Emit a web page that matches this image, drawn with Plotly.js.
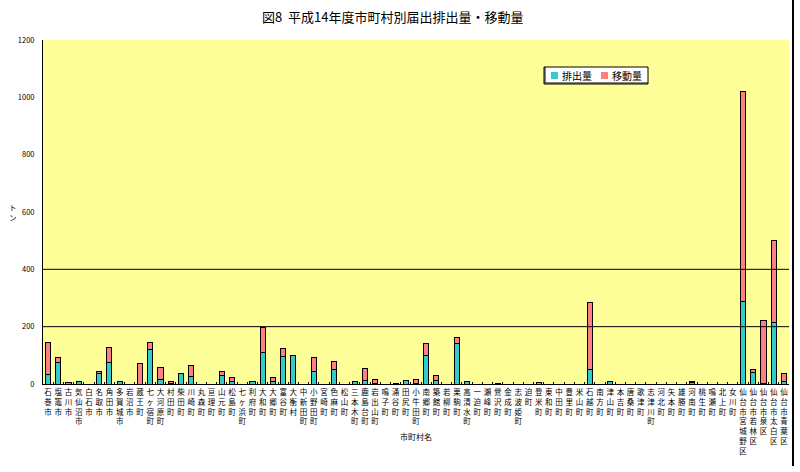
<!DOCTYPE html>
<html>
<head>
<meta charset="utf-8">
<script src="https://cdn.plot.ly/plotly-3.0.1.min.js"></script>
<style>
  html, body { margin: 0; padding: 0; background: #fff; }
  #chart { width: 800px; height: 472px; }
</style>
</head>
<body>
<div id="chart"></div>
<script>
// 市町村名 (縦書きで表示)
const towns = [
  '石巻市', '塩竈市', '古川市', '気仙沼市', '白石市', '名取市', '角田市', '多賀城市', '岩沼市', '蔵王町',
  '七ヶ宿町', '大河原町', '村田町', '柴田町', '川崎町', '丸森町', '亘理町', '山元町', '松島町', '七ヶ浜町',
  '利府町', '大和町', '大郷町', '富谷町', '大衡村', '中新田町', '小野田町', '宮崎町', '色麻町', '松山町',
  '三本木町', '鹿島台町', '岩出山町', '鳴子町', '涌谷町', '田尻町', '小牛田町', '南郷町', '築館町', '若柳町',
  '栗駒町', '高清水町', '一迫町', '瀬峰町', '鶯沢町', '金成町', '志波姫町', '迫町', '登米町', '東和町',
  '中田町', '豊里町', '米山町', '石越町', '南方町', '津山町', '本吉町', '唐桑町', '歌津町', '志津川町',
  '河北町', '矢本町', '雄勝町', '河南町', '桃生町', '鳴瀬町', '北上町', '女川町',
  '仙台市宮城野区', '仙台市若林区', '仙台市泉区', '仙台市太白区', '仙台市青葉区'
];

// 排出量 (トン)
const emissions = [
  34, 75, 6, 9, 0, 38, 76, 10, 0, 0,
  120, 15, 2, 35, 27, 0, 0, 30, 8, 0,
  7, 110, 7, 95, 98, 0, 44, 0, 50, 0,
  10, 13, 1, 0, 3, 13, 2, 99, 13, 0,
  141, 10, 0, 0, 3, 0, 0, 0, 0, 0,
  0, 0, 0, 52, 0, 7, 0, 0, 0, 0,
  0, 0, 0, 6, 0, 0, 0, 0,
  287, 41, 2, 215, 9
];

// 移動量 (トン)
const transfers = [
  111, 17, 0, 0, 0, 4, 50, 0, 0, 73,
  25, 43, 5, 0, 39, 0, 0, 15, 16, 0,
  0, 88, 17, 29, 0, 0, 49, 0, 30, 0,
  0, 42, 13, 0, 0, 0, 15, 41, 17, 0,
  22, 0, 0, 0, 0, 0, 0, 0, 4, 0,
  0, 0, 0, 232, 0, 0, 0, 0, 0, 0,
  0, 0, 0, 1, 0, 0, 0, 0,
  735, 8, 221, 287, 26
];

const seriesNames = ['排出量', '移動量'];
const seriesColors = ['#33CCCC', '#FF8080'];
const refLines = [200, 400];

const font = 'Noto Sans CJK JP, sans-serif';
const labels = towns.map(t => t.split('').join('<br>'));

const traces = [emissions, transfers].map((vals, i) => ({
  x: labels,
  y: vals,
  name: seriesNames[i],
  type: 'bar',
  marker: { color: seriesColors[i], line: { color: '#000', width: 1 } }
}));

// plot area in pixels: x 43..789, y 40..384
const px = x => (x - 43) / 746;
const py = y => (384 - y) / 344;

const shapes = refLines.map(v => ({
  type: 'line', xref: 'paper', yref: 'y',
  x0: 0, x1: 1, y0: v, y1: v,
  line: { color: '#000', width: 1 }
}));

// right border of the chart area
shapes.push({
  type: 'line', xref: 'paper', yref: 'paper',
  x0: px(793), x1: px(793), y0: py(0), y1: py(466),
  line: { color: '#000', width: 2 }
});

// hand-drawn legend box
shapes.push({
  type: 'rect', xref: 'paper', yref: 'paper',
  x0: px(544), x1: px(648), y0: py(84), y1: py(67),
  fillcolor: '#fff', line: { color: '#000', width: 1 }
});
shapes.push({
  type: 'path', xref: 'paper', yref: 'paper',
  path: `M ${px(545)} ${py(67)} L ${px(545)} ${py(83)} L ${px(648)} ${py(83)}`,
  line: { color: '#000', width: 1 }
});

const legendX = [551, 601];
const annotations = [];
seriesNames.forEach((name, i) => {
  shapes.push({
    type: 'rect', xref: 'paper', yref: 'paper',
    x0: px(legendX[i]), x1: px(legendX[i] + 7), y0: py(79), y1: py(72),
    fillcolor: seriesColors[i], line: { width: 0 }
  });
  annotations.push({
    text: name, xref: 'paper', yref: 'paper',
    x: px(legendX[i] + 9), y: py(75.5), xanchor: 'left', yanchor: 'middle',
    showarrow: false, font: { size: 10, family: font }
  });
});

annotations.push({
  text: '市町村名', xref: 'paper', yref: 'paper',
  x: 0.5, y: py(436), xanchor: 'center', yanchor: 'middle',
  showarrow: false, font: { size: 8, family: font }
});
['ト', 'ン'].forEach((ch, i) => {
  annotations.push({
    text: ch, xref: 'paper', yref: 'paper',
    x: px(13), y: py(207 + i * 10), xanchor: 'center', yanchor: 'middle',
    showarrow: false, font: { size: 7.5, family: font }
  });
});

const layout = {
  width: 800,
  height: 472,
  margin: { l: 43, r: 11, t: 40, b: 88 },
  paper_bgcolor: '#fff',
  plot_bgcolor: '#FFFF99',
  font: { family: font, color: '#000' },
  barmode: 'stack',
  bargap: 0.5,
  showlegend: false,
  title: {
    text: '図8  平成14年度市町村別届出排出量・移動量',
    font: { size: 13, family: font, color: '#000' },
    x: 0.491, xanchor: 'center',
    y: 0.964, yref: 'container', yanchor: 'middle'
  },
  xaxis: {
    type: 'category',
    showline: true, linecolor: '#000', linewidth: 1,
    showgrid: false,
    ticks: 'inside', tickson: 'boundaries', ticklen: 2, tickcolor: '#000',
    tickangle: 0,
    tickfont: { size: 7.5, family: font },
    ticklabelstandoff: 1
  },
  yaxis: {
    range: [0, 1200],
    tickvals: [0, 200, 400, 600, 800, 1000, 1200],
    showline: true, linecolor: '#000', linewidth: 1,
    showgrid: false, zeroline: false,
    ticks: '',
    ticklabelstandoff: 6,
    tickfont: { size: 7.5, family: font }
  },
  shapes: shapes,
  annotations: annotations
};

Plotly.newPlot('chart', traces, layout, { displayModeBar: false, staticPlot: true });
</script>
</body>
</html>
